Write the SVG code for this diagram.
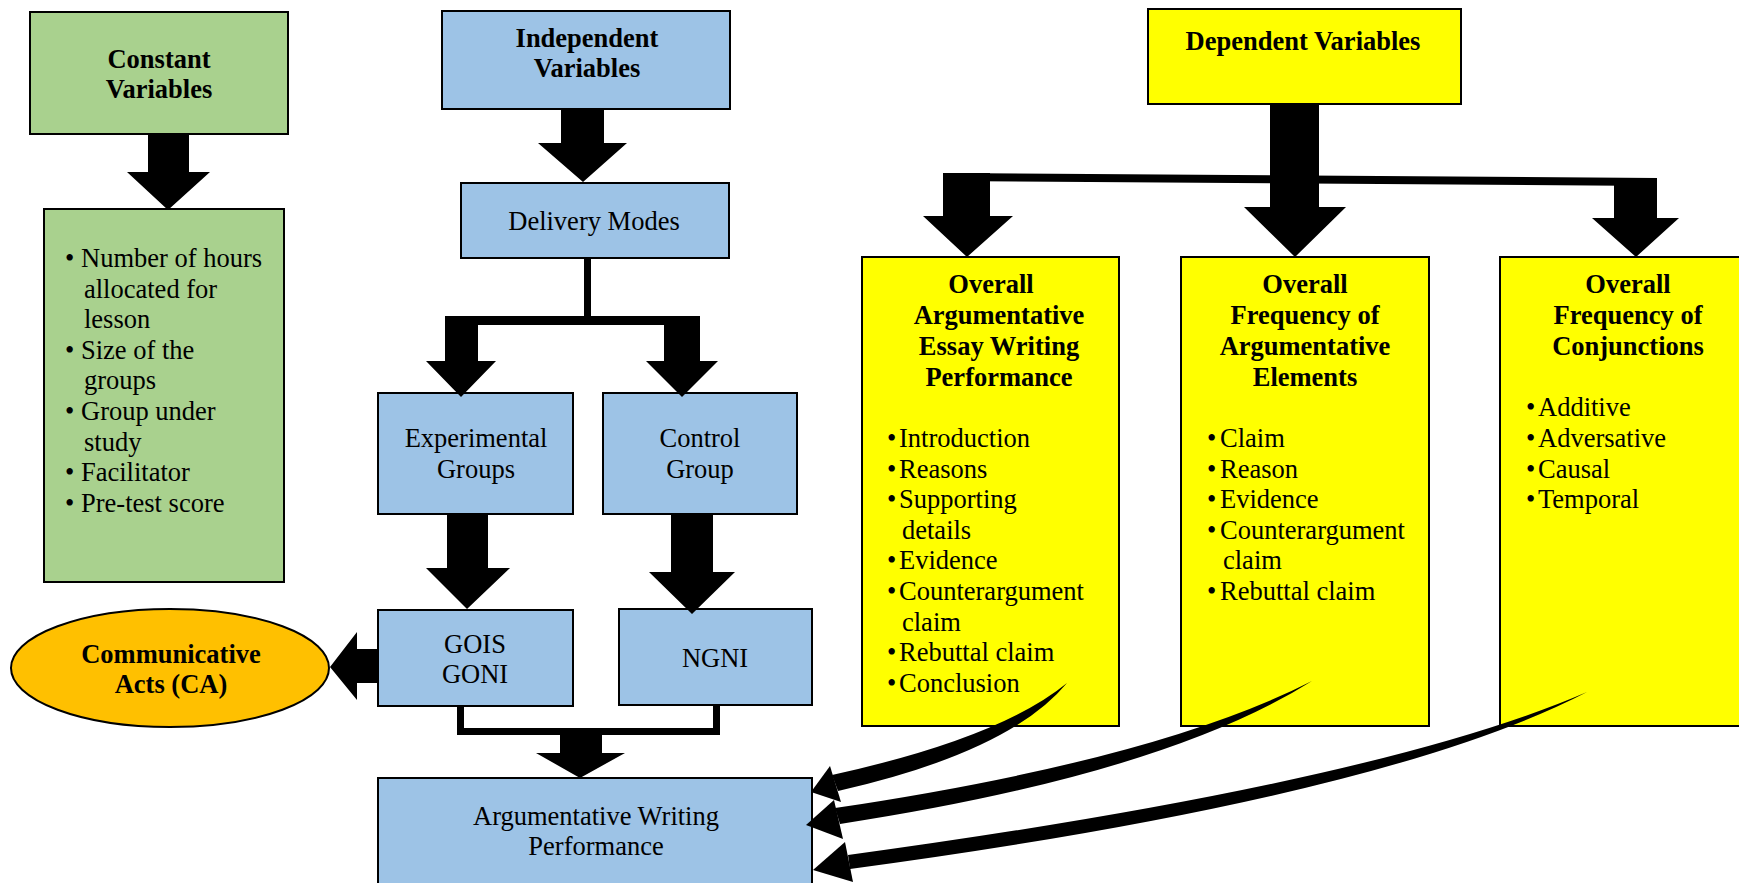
<svg xmlns="http://www.w3.org/2000/svg" width="1739" height="883" viewBox="0 0 1739 883">
<style>
  .box { stroke: #000; stroke-width: 2; }
  .green { fill: #A9D18E; }
  .blue { fill: #9DC3E6; }
  .yellow { fill: #FFFF00; }
  .orange { fill: #FFC000; }
  text { font-family: "Liberation Serif", "Times New Roman", serif; font-size: 26.5px; fill: #000; }
  .b { font-weight: bold; }
  .c { text-anchor: middle; }
  .arr { fill: #000; stroke: none; }
</style>
<rect width="1739" height="883" fill="#fff"/>

<g id="constant-variables">
  <rect class="box green" x="30" y="12" width="258" height="122"/>
  <text class="b c" x="159" y="68">Constant</text>
  <text class="b c" x="159" y="98">Variables</text>
</g>

<g id="constant-list">
  <rect class="box green" x="44" y="209" width="240" height="373"/>
  <text x="65" y="267">•</text><text x="81" y="267">Number of hours</text>
  <text x="84" y="297.6">allocated for</text>
  <text x="84" y="328.2">lesson</text>
  <text x="65" y="358.8">•</text><text x="81" y="358.8">Size of the</text>
  <text x="84" y="389.4">groups</text>
  <text x="65" y="420">•</text><text x="81" y="420">Group under</text>
  <text x="84" y="450.6">study</text>
  <text x="65" y="481.2">•</text><text x="81" y="481.2">Facilitator</text>
  <text x="65" y="511.8">•</text><text x="81" y="511.8">Pre-test score</text>
</g>

<g id="independent-variables">
  <rect class="box blue" x="442" y="11" width="288" height="98"/>
  <text class="b c" x="587" y="47">Independent</text>
  <text class="b c" x="587" y="77">Variables</text>
</g>

<g id="delivery-modes">
  <rect class="box blue" x="461" y="183" width="268" height="75"/>
  <text class="c" x="594" y="230">Delivery Modes</text>
</g>

<g id="experimental-groups">
  <rect class="box blue" x="378" y="393" width="195" height="121"/>
  <text class="c" x="476" y="447">Experimental</text>
  <text class="c" x="476" y="478">Groups</text>
</g>

<g id="control-group">
  <rect class="box blue" x="603" y="393" width="194" height="121"/>
  <text class="c" x="700" y="447">Control</text>
  <text class="c" x="700" y="478">Group</text>
</g>

<g id="gois-goni">
  <rect class="box blue" x="378" y="610" width="195" height="96"/>
  <text class="c" x="475" y="653">GOIS</text>
  <text class="c" x="475" y="683">GONI</text>
</g>

<g id="ngni">
  <rect class="box blue" x="619" y="609" width="193" height="96"/>
  <text class="c" x="715" y="667">NGNI</text>
</g>

<g id="communicative-acts">
  <ellipse class="box orange" cx="170" cy="668" rx="159" ry="59"/>
  <text class="b c" x="171" y="663">Communicative</text>
  <text class="b c" x="171" y="693">Acts (CA)</text>
</g>

<g id="argumentative-writing-performance">
  <rect class="box blue" x="378" y="778" width="434" height="120"/>
  <text class="c" x="596" y="825">Argumentative Writing</text>
  <text class="c" x="596" y="855">Performance</text>
</g>

<g id="dependent-variables">
  <rect class="box yellow" x="1148" y="9" width="313" height="95"/>
  <text class="b c" x="1303" y="50">Dependent Variables</text>
</g>

<g id="essay-performance">
  <rect class="box yellow" x="862" y="257" width="257" height="469"/>
  <text class="b c" x="991" y="293">Overall</text>
  <text class="b c" x="999" y="324">Argumentative</text>
  <text class="b c" x="999" y="355">Essay Writing</text>
  <text class="b c" x="999" y="386">Performance</text>
  <text x="887" y="447">•</text><text x="899" y="447">Introduction</text>
  <text x="887" y="477.6">•</text><text x="899" y="477.6">Reasons</text>
  <text x="887" y="508.2">•</text><text x="899" y="508.2">Supporting</text>
  <text x="902" y="538.8">details</text>
  <text x="887" y="569.4">•</text><text x="899" y="569.4">Evidence</text>
  <text x="887" y="600">•</text><text x="899" y="600">Counterargument</text>
  <text x="902" y="630.6">claim</text>
  <text x="887" y="661.2">•</text><text x="899" y="661.2">Rebuttal claim</text>
  <text x="887" y="691.8">•</text><text x="899" y="691.8">Conclusion</text>
</g>

<g id="argumentative-elements">
  <rect class="box yellow" x="1181" y="257" width="248" height="469"/>
  <text class="b c" x="1305" y="293">Overall</text>
  <text class="b c" x="1305" y="324">Frequency of</text>
  <text class="b c" x="1305" y="355">Argumentative</text>
  <text class="b c" x="1305" y="386">Elements</text>
  <text x="1207" y="447">•</text><text x="1220" y="447">Claim</text>
  <text x="1207" y="477.6">•</text><text x="1220" y="477.6">Reason</text>
  <text x="1207" y="508.2">•</text><text x="1220" y="508.2">Evidence</text>
  <text x="1207" y="538.8">•</text><text x="1220" y="538.8">Counterargument</text>
  <text x="1223" y="569.4">claim</text>
  <text x="1207" y="600">•</text><text x="1220" y="600">Rebuttal claim</text>
</g>

<g id="conjunctions">
  <rect class="box yellow" x="1500" y="257" width="260" height="469"/>
  <text class="b c" x="1628" y="293">Overall</text>
  <text class="b c" x="1628" y="324">Frequency of</text>
  <text class="b c" x="1628" y="355">Conjunctions</text>
  <text x="1526" y="416">•</text><text x="1538" y="416">Additive</text>
  <text x="1526" y="447">•</text><text x="1538" y="447">Adversative</text>
  <text x="1526" y="477.6">•</text><text x="1538" y="477.6">Causal</text>
  <text x="1526" y="508.2">•</text><text x="1538" y="508.2">Temporal</text>
</g>

<g id="connectors">
  <!-- Constant -> list -->
  <polygon class="arr" points="148,133 189,133 189,172 210,172 168,210 127,172 148,172"/>
  <!-- Independent -> Delivery -->
  <polygon class="arr" points="561,109 604,109 604,143 627,143 583,182 538,143 561,143"/>
  <!-- Delivery split -->
  <rect class="arr" x="584" y="258" width="7" height="60"/>
  <rect class="arr" x="445" y="316" width="255" height="9"/>
  <polygon class="arr" points="445,316 478,316 478,361 496,361 461,397 426,361 445,361"/>
  <polygon class="arr" points="664,316 700,316 700,361 718,361 682,397 646,361 664,361"/>
  <!-- Experimental -> GOIS -->
  <polygon class="arr" points="447,514 488,514 488,568 510,568 467,609 426,568 447,568"/>
  <!-- Control -> NGNI -->
  <polygon class="arr" points="671,514 713,514 713,572 735,572 692,614 649,572 671,572"/>
  <!-- GOIS -> Communicative Acts -->
  <polygon class="arr" points="378,649 378,683 357,683 357,700 330,667 357,632 357,649"/>
  <!-- Bracket to AWP -->
  <rect class="arr" x="457" y="706" width="7" height="29"/>
  <rect class="arr" x="713" y="705" width="7" height="30"/>
  <rect class="arr" x="457" y="728" width="263" height="7"/>
  <polygon class="arr" points="560,735 602,735 602,753 625,753 580,778 536,753 560,753"/>
  <!-- Dependent -> three boxes -->
  <polygon class="arr" points="1270,104 1319,104 1319,207 1346,207 1295,257 1244,207 1270,207"/>
  <polygon class="arr" points="943,173 1657,178 1657,186 943,181"/>
  <polygon class="arr" points="943,173 990,173 990,216 1013,216 967,257 923,216 943,216"/>
  <polygon class="arr" points="1614,178 1657,178 1657,218 1679,218 1636,257 1592,218 1614,218"/>
  <!-- Curved arrows to AWP -->
  <path class="arr" d="M1067,683 Q1000,738 832,775 L838,791 Q1010,752 1067,683 Z"/>
  <polygon class="arr" points="830,766 811,792 841,802"/>
  <path class="arr" d="M1312,681 Q1157,760 835,808 L840,824 Q1165,774 1312,681 Z"/>
  <polygon class="arr" points="834,800 806,825 843,839"/>
  <path class="arr" d="M1587,692 Q1377,783 848,855 L850,869 Q1385,797 1587,692 Z"/>
  <polygon class="arr" points="845,842 813,870 853,882"/>
</g>
</svg>
